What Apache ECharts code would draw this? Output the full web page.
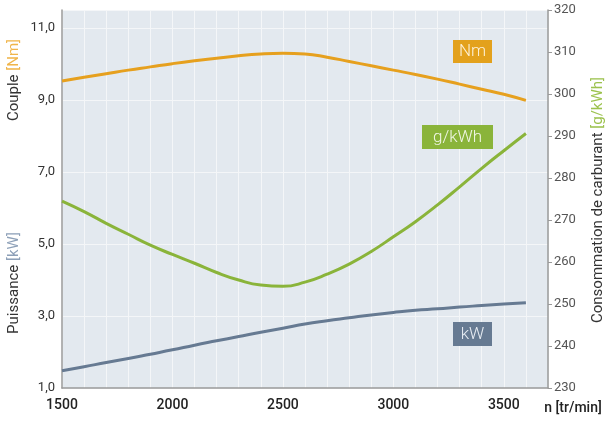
<!DOCTYPE html>
<html><head><meta charset="utf-8">
<script src="https://cdn.jsdelivr.net/npm/echarts@6/dist/echarts.min.js"></script>
<style>html,body{margin:0;padding:0;background:#fff}#c{width:608px;height:421px}</style>
</head><body><div id="c"></div>
<script>
const rpm = [1500,1600,1700,1800,1900,2000,2100,2200,2300,2400,2500,2600,2700,2800,2900,3000,3100,3200,3300,3400,3500,3600];
const torqueNm = [9.53,9.63,9.73,9.83,9.92,10.01,10.09,10.16,10.23,10.28,10.30,10.28,10.19,10.07,9.95,9.83,9.71,9.58,9.44,9.30,9.16,8.99];
const consumption = [274.5,272.0,269.2,266.6,264.0,261.8,259.7,257.5,255.7,254.5,254.2,255.2,257.1,259.5,262.5,266.0,269.6,273.6,277.9,282.3,286.5,290.6];
const powerKw = [1.48,1.59,1.71,1.82,1.94,2.06,2.19,2.31,2.43,2.55,2.66,2.78,2.87,2.95,3.03,3.10,3.16,3.20,3.25,3.29,3.33,3.37];

const FONT = 'Roboto, "Noto Sans", sans-serif';
const C_NM = '#e6a01e', C_G = '#8ab43a', C_KW = '#667a92';
const pair = (arr) => rpm.map((x,i)=>[x, arr[i]]);
const boxText = (x, y, t, fill) => ({type:'text',x:x,y:y,z:101,silent:true,
  style:{text:t,fill:fill,fontFamily:FONT,fontSize:17,fontWeight:300,align:'center',verticalAlign:'middle'}});
const box = (x, y, w, h, fill) => ({type:'rect',z:100,silent:true,shape:{x:x,y:y,width:w,height:h},style:{fill:fill}});

const chart = echarts.init(document.getElementById('c'));
chart.setOption({
  animation:false,
  textStyle:{fontFamily:FONT},
  grid:{left:62,right:60,top:10,bottom:33,show:true,backgroundColor:'#e3e9ef',borderWidth:0},
  xAxis:{type:'value',min:1500,max:3700,interval:100,
    axisLine:{show:true,lineStyle:{color:'#9a9a9a',width:1.5}},
    axisTick:{show:false},
    splitLine:{show:true,lineStyle:{color:'#f4f6f8',width:1}},
    axisLabel:{fontFamily:FONT,fontSize:14,fontWeight:500,color:'#222',margin:10,
      formatter:v=> (v%500===0 && v<=3500) ? String(v) : ''}},
  yAxis:[
    {type:'value',min:1,max:11.5,interval:2,position:'left',
      axisLine:{show:true,lineStyle:{color:'#9a9a9a',width:1.5}},
      axisTick:{show:false},
      splitLine:{show:true,lineStyle:{color:'#f4f6f8',width:1}},
      axisLabel:{showMaxLabel:false,fontFamily:FONT,fontSize:13,color:'#333',margin:7,
        formatter:v=>v.toFixed(1).replace('.',',')}},
    {type:'value',min:230,max:320,interval:10,position:'right',
      axisLine:{show:true,lineStyle:{color:'#9a9a9a',width:1.5}},
      axisTick:{show:true,length:4,lineStyle:{color:'#9a9a9a'}},
      splitLine:{show:false},
      axisLabel:{fontFamily:FONT,fontSize:13,color:'#555',margin:6}}
  ],
  series:[
    {type:'line',name:'Nm',yAxisIndex:0,data:pair(torqueNm),smooth:0.5,symbol:'none',lineStyle:{color:C_NM,width:3}},
    {type:'line',name:'g/kWh',yAxisIndex:1,data:pair(consumption),smooth:0.5,symbol:'none',lineStyle:{color:C_G,width:3}},
    {type:'line',name:'kW',yAxisIndex:0,data:pair(powerKw),smooth:0.5,symbol:'none',lineStyle:{color:C_KW,width:3}}
  ],
  graphic:[
    box(453,40,39,23,'#e3a11c'),
    boxText(472.5,52,'Nm','#fdf1d8'),
    box(422,125,71,24,'#8ab43a'),
    boxText(457.5,137.5,'g/kWh','#f1f7e6'),
    box(453,322,39,24,'#667a92'),
    boxText(472.5,334.5,'kW','#e9eef4'),
    {type:'text',x:14,y:80,rotation:Math.PI/2,style:{
      rich:{a:{fill:'#333',font:'15px '+FONT},b:{fill:'#f0b54a',font:'15px '+FONT}},
      text:'{a|Couple }{b|[Nm]}',textAlign:'center',textVerticalAlign:'middle'}},
    {type:'text',x:14,y:283,rotation:Math.PI/2,style:{
      rich:{a:{fill:'#333',font:'15px '+FONT},b:{fill:'#8da0b8',font:'15px '+FONT}},
      text:'{a|Puissance }{b|[kW]}',textAlign:'center',textVerticalAlign:'middle'}},
    {type:'text',x:598,y:200,rotation:Math.PI/2,style:{
      rich:{a:{fill:'#333',font:'15px '+FONT},b:{fill:'#9cc24e',font:'15px '+FONT}},
      text:'{a|Consommation de carburant }{b|[g/kWh]}',textAlign:'center',textVerticalAlign:'middle'}},
    {type:'text',x:573,y:408,style:{text:'n [tr/min]',fill:'#222',font:'500 14px '+FONT,textAlign:'center',textVerticalAlign:'middle'}}
  ]
});
</script></body></html>
